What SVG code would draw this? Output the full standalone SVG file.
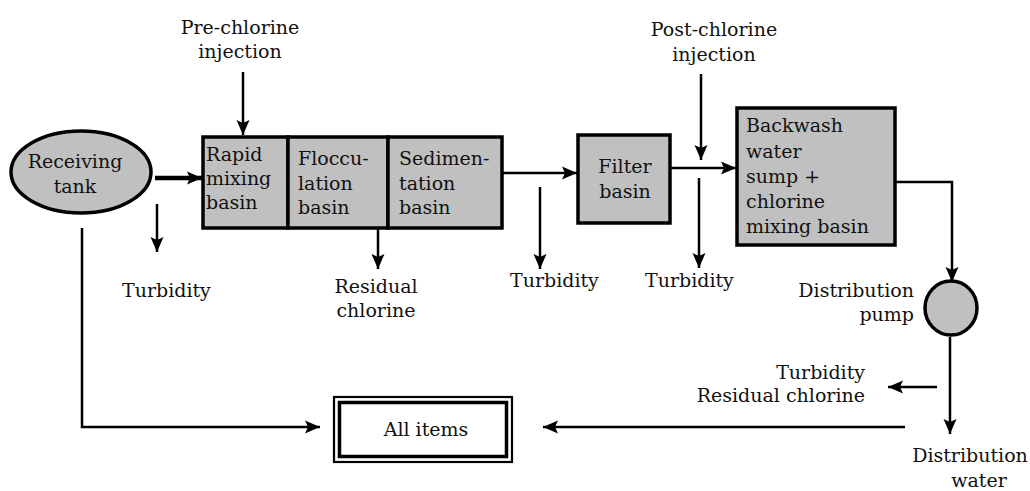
<svg xmlns="http://www.w3.org/2000/svg" width="1030" height="491" viewBox="0 0 1030 491">
<style>
text{font-family:"DejaVu Serif","Liberation Serif",serif;font-size:19px;fill:#111}
.m{text-anchor:middle}.e{text-anchor:end}
.n{fill:#c0c0c0;stroke:#000;stroke-width:3.5}
.c{fill:none;stroke:#000;stroke-width:2.5}
.t{stroke-width:4.5}
</style>
<defs>
<marker id="a" markerUnits="userSpaceOnUse" markerWidth="16" markerHeight="16" viewBox="0 0 16 16" refX="15" refY="8" orient="auto"><path d="M0,1.5 L15,8 L0,14.5 L3,8 Z" fill="#000"/></marker>
</defs>
<rect width="1030" height="491" fill="#fff"/>
<g id="connectors">
<path class="c t" d="M155,178 H202" marker-end="url(#a)"/>
<path class="c" d="M157,204 V252" marker-end="url(#a)"/>
<path class="c" d="M243,72 V135" marker-end="url(#a)"/>
<path class="c" d="M378,226 V269" marker-end="url(#a)"/>
<path class="c" d="M502,173 H577" marker-end="url(#a)"/>
<path class="c" d="M540,187 V269" marker-end="url(#a)"/>
<path class="c" d="M670,168 H736" marker-end="url(#a)"/>
<path class="c" d="M701,74 V160" marker-end="url(#a)"/>
<path class="c" d="M699,178 V268" marker-end="url(#a)"/>
<path class="c" d="M895,182 H952 V282" marker-end="url(#a)"/>
<path class="c" d="M950,337 V434" marker-end="url(#a)"/>
<path class="c" d="M937,387 H888" marker-end="url(#a)"/>
<path class="c" d="M905,427 H543" marker-end="url(#a)"/>
<path class="c" d="M82,228 V427 H320" marker-end="url(#a)"/>
</g>
<g id="receiving-tank">
<ellipse class="n" cx="81" cy="172" rx="70" ry="41"/>
<text class="m" x="75" y="168">Receiving</text>
<text class="m" x="75" y="193">tank</text>
</g>
<g id="rapid-mixing">
<rect class="n" x="203" y="137" width="85" height="91"/>
<text x="206" y="161">Rapid</text>
<text x="206" y="185">mixing</text>
<text x="206" y="209">basin</text>
</g>
<g id="flocculation">
<rect class="n" x="288" y="137" width="100" height="91"/>
<text x="298" y="165">Floccu-</text>
<text x="298" y="190">lation</text>
<text x="298" y="214">basin</text>
</g>
<g id="sedimentation">
<rect class="n" x="388" y="137" width="114" height="91"/>
<text x="399" y="165">Sedimen-</text>
<text x="399" y="190">tation</text>
<text x="399" y="214">basin</text>
</g>
<g id="filter">
<rect class="n" x="578" y="135" width="92" height="88"/>
<text class="m" x="625" y="173">Filter</text>
<text class="m" x="625" y="198">basin</text>
</g>
<g id="backwash">
<rect class="n" x="737" y="108" width="158" height="137"/>
<text x="746" y="132">Backwash</text>
<text x="746" y="158">water</text>
<text x="746" y="183">sump +</text>
<text x="746" y="208">chlorine</text>
<text x="746" y="233">mixing basin</text>
</g>
<g id="pump">
<ellipse class="n" cx="951" cy="308" rx="26" ry="27"/>
<text class="e" x="914" y="297">Distribution</text>
<text class="e" x="914" y="321">pump</text>
</g>
<g id="all-items">
<rect x="334" y="397" width="178" height="65" fill="#fff" stroke="#000" stroke-width="2.2"/>
<rect x="339.5" y="402.5" width="167" height="54" fill="none" stroke="#000" stroke-width="3.5"/>
<text class="m" x="426" y="436">All items</text>
</g>
<g id="labels">
<text class="m" x="240" y="34">Pre-chlorine</text>
<text class="m" x="240" y="58">injection</text>
<text class="m" x="714" y="36">Post-chlorine</text>
<text class="m" x="714" y="61">injection</text>
<text x="122" y="297">Turbidity</text>
<text class="m" x="376" y="293">Residual</text>
<text class="m" x="376" y="317">chlorine</text>
<text x="510" y="287">Turbidity</text>
<text x="645" y="287">Turbidity</text>
<text class="e" x="865" y="379">Turbidity</text>
<text class="e" x="865" y="402">Residual chlorine</text>
<text class="m" x="970" y="462">Distribution</text>
<text class="m" x="979" y="487">water</text>
</g>
</svg>
